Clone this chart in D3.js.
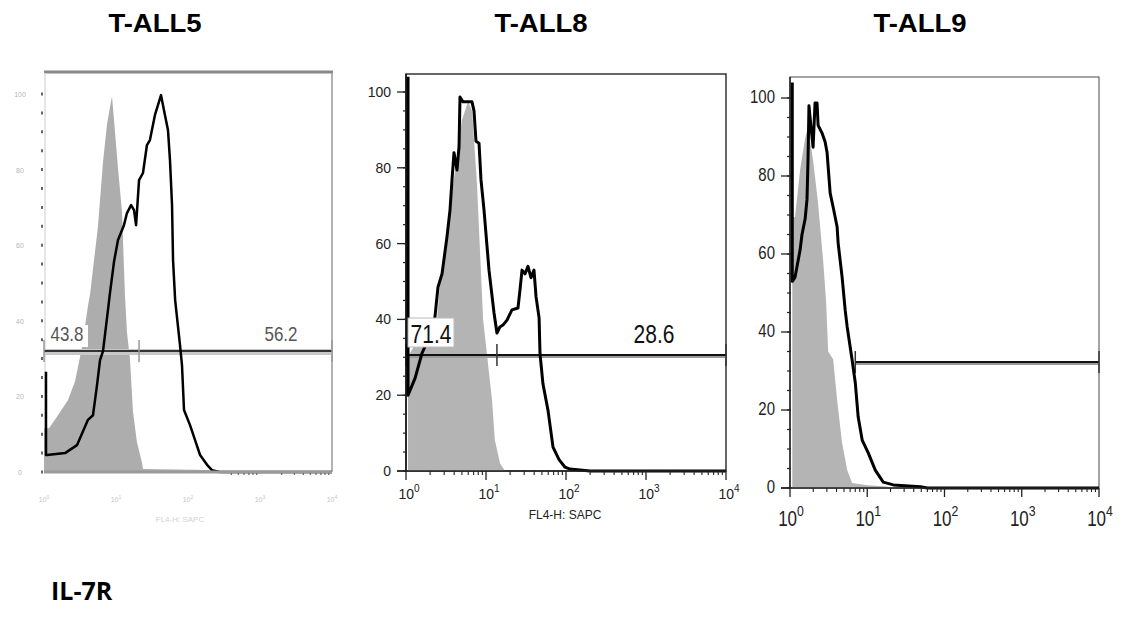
<!DOCTYPE html>
<html><head><meta charset="utf-8">
<script src="https://cdn.jsdelivr.net/npm/d3@7/dist/d3.min.js"></script>
<style>
html,body{margin:0;padding:0;background:#fff;}
svg{display:block;}
</style></head>
<body><svg id="c" width="1124" height="621"></svg>
<script>
// ---------- DATA ----------
const titles = ["T-ALL5", "T-ALL8", "T-ALL9"];
const markerLabel = "IL-7R";
const axisTitle = "FL4-H: SAPC";
const yTicks = [0, 20, 40, 60, 80, 100];
const xTickExps = [0, 1, 2, 3, 4];

// T-ALL5 (isotype = gray, IL-7R = black); x = fluorescence intensity, y = % of max
const gray1X = [1.0, 1.17, 1.42, 2.15, 2.7, 3.37, 4.08, 4.36, 5.62, 6.6, 7.5, 8.8, 10.7, 12.1, 13.3, 14.2, 15.6, 17.2, 19.5, 23.0, 23.7, 200, 215];
const gray1Y = [11.6, 11.6, 13.8, 19, 24, 33, 44, 47, 65, 82, 92, 99.5, 80, 69, 47, 37, 30, 16, 8, 2.4, 0.8, 0.5, 0];
const black1X = [1.066, 1.066, 1.10, 1.96, 2.87, 4.08, 4.79, 5.45, 6.0, 6.6, 7.74, 8.25, 9.38, 10.66, 12.9, 14.2, 16.2, 17.8, 19.0, 20.9, 23.7, 26.9, 29.6, 34.7, 42.2, 47.9, 52.7, 56.2, 60.0, 62.0, 66.3, 77.4, 82.5, 88.0, 106.7, 125, 147, 184, 215, 278, 10000];
const black1Y = [26.5, 4.5, 4.5, 5, 7.1, 13.8, 15, 23, 29.6, 32, 42.9, 47.4, 55.6, 61.4, 65.3, 68.5, 70.6, 69.3, 65.3, 77.2, 79.1, 86.5, 87.8, 94.4, 99.7, 94.4, 90.5, 82.5, 70.6, 56, 45.5, 33.6, 28.3, 16.4, 12.4, 8.5, 4.5, 1.9, 0.5, 0, 0];

// T-ALL8
const gray2X = [1.06, 1.5, 2.44, 2.66, 3.35, 4.1, 5.0, 5.96, 6.7, 7.7, 9.2, 11.9, 12.9, 15.0, 17.3];
const gray2Y = [30, 36, 40, 49.6, 66, 79, 92.6, 97.4, 95, 76, 40, 18.7, 8.2, 2, 0];
const black2X = [1.06, 1.06, 1.30, 1.58, 1.83, 2.30, 2.51, 2.82, 3.25, 3.55, 3.76, 3.98, 4.34, 4.60, 4.73, 5.16, 6.68, 7.08, 7.50, 8.18, 8.66, 9.44, 10.9, 12.6, 13.7, 14.9, 16.3, 18.3, 21.1, 25.1, 26.6, 28.2, 30.7, 33.5, 36.5, 39.8, 42.2, 46.1, 47.3, 51.5, 59.6, 68.8, 81.9, 97.2, 112, 200, 10000];
const black2Y = [104, 20, 24.5, 31, 34, 40.6, 48.5, 52, 61.7, 68.9, 76.8, 84, 79.4, 85.5, 98.7, 97.4, 97.4, 95, 87, 86.5, 76.8, 68.9, 53, 41.7, 36.4, 38, 38.5, 39.8, 42.5, 43, 47.8, 53, 52, 54, 51, 53, 46, 40.4, 31, 23, 16, 6.3, 3, 1, 0.5, 0, 0];

// T-ALL9
const gray3X = [1.07, 1.16, 1.35, 1.57, 1.71, 1.99, 2.31, 2.68, 2.93, 3.12, 3.62, 4.07, 4.73, 5.50, 6.37, 10, 18.2, 19];
const gray3Y = [69.5, 69.5, 81.5, 89.7, 92.6, 84, 73, 58.5, 48, 35, 33, 22.6, 11.5, 4.6, 1.3, 0.7, 0.4, 0];
const black3X = [1.07, 1.07, 1.16, 1.35, 1.43, 1.57, 1.66, 1.71, 1.76, 1.87, 1.99, 2.11, 2.24, 2.31, 2.60, 2.85, 3.02, 3.31, 3.62, 4.07, 4.20, 4.73, 5.18, 5.50, 6.37, 7.0, 7.63, 8.6, 10.3, 12.7, 16.1, 21.8, 48.9, 60, 10000];
const black3Y = [104, 53, 54, 61, 65, 69, 74, 84, 98, 92.5, 87.4, 98.7, 98.7, 93, 91, 88.7, 86, 75.6, 72, 67, 62.8, 54, 45.6, 41.3, 32.8, 27, 18.2, 12.3, 9, 4.6, 1.5, 0.8, 0.3, 0, 0];

// gates: [height (% of max), divider / start intensity], region percentages
const gateLevels = [32, 30.6, 32.3];
const gateSplits = [20.9, 13.7, 7.0];
const gateLabels1 = ["43.8", "56.2"];
const gateLabels2 = ["71.4", "28.6"];

// ---------- DRAW ----------
const svg = d3.select("#c");
const FONT = "'Liberation Sans', Arial, sans-serif";

function txt(g, str, x, y, o) {
  o = o || {};
  const t = g.append("text")
    .attr("transform", `translate(${x},${y}) scale(${o.sx || 1},${o.sy || 1})`)
    .attr("text-anchor", o.anchor || "start")
    .style("font-family", o.family || FONT)
    .style("font-size", (o.size || 12) + "px")
    .style("font-weight", o.weight || "normal")
    .style("fill", o.fill || "#000");
  if (o.opacity != null) t.style("opacity", o.opacity);
  if (o.sup != null) {
    t.append("tspan").text(str);
    t.append("tspan").attr("dy", -(o.size || 12) * 0.45).style("font-size", ((o.size || 12) * 0.72) + "px").text(o.sup);
  } else t.text(str);
  return t;
}

const panels = [
  {L: 44, R: 332, T: 73, B: 472, Y100: 94, gray: [gray1X, gray1Y], black: [black1X, black1Y], fillC: "#adadad"},
  {L: 406, R: 726, T: 74, B: 471, Y100: 92, gray: [gray2X, gray2Y], black: [black2X, black2Y], fillC: "#b4b4b4"},
  {L: 790, R: 1099, T: 77, B: 488, Y100: 98, gray: [gray3X, gray3Y], black: [black3X, black3Y], fillC: "#b4b4b4"}
];
panels.forEach(p => {
  p.x = d3.scaleLog().domain([1, 1e4]).range([p.L, p.R]);
  p.y = d3.scaleLinear().domain([0, 100]).range([p.B, p.Y100]);
});

// titles
const titleX = [155, 541, 920];
titles.forEach((t, i) => txt(svg, t, titleX[i], 32, {anchor: "middle", size: 25, weight: "bold", sx: 1.1}));
txt(svg, markerLabel, 51, 600, {size: 25, weight: "bold", family: "'Open Sans', 'Liberation Sans', sans-serif", sx: 1.0});

const minorVals = [];
for (let e = 0; e < 4; e++) for (let m = 2; m <= 9; m++) minorVals.push(m * Math.pow(10, e));
const yMinor = d3.range(0, 101, 5);

panels.forEach((p, i) => {
  const g = svg.append("g");
  const area = d3.area().x((d, k) => p.x(p.gray[0][k])).y0(p.B).y1((d, k) => p.y(p.gray[1][k]));
  const line = d3.line().x((d, k) => p.x(p.black[0][k])).y((d, k) => p.y(p.black[1][k]));

  // frame
  if (i === 0) {
    g.append("line").attr("x1", p.L).attr("x2", p.R + 1).attr("y1", p.T - 1).attr("y2", p.T - 1).attr("stroke", "#888").attr("stroke-width", 3);
    g.append("line").attr("x1", p.R).attr("x2", p.R).attr("y1", p.T).attr("y2", p.B).attr("stroke", "#999").attr("stroke-width", 1.5);
    g.append("line").attr("x1", p.L + 1).attr("x2", p.L + 1).attr("y1", p.T).attr("y2", p.B).attr("stroke", "#ddd").attr("stroke-width", 1.5);
  } else {
    g.append("rect").attr("x", p.L).attr("y", p.T).attr("width", p.R - p.L).attr("height", p.B - p.T)
      .attr("fill", "none").attr("stroke", i === 1 ? "#333" : "#666").attr("stroke-width", i === 1 ? 1.5 : 1.2);
  }

  // gray histogram
  g.append("path").datum(p.gray[0]).attr("d", area).attr("fill", p.fillC).attr("stroke", "none");

  // gate
  const gy = p.y(gateLevels[i]);
  const gx0 = i === 2 ? p.x(gateSplits[i]) : p.L;
  g.append("line").attr("x1", gx0).attr("x2", p.R).attr("y1", gy + 1).attr("y2", gy + 1)
    .attr("stroke", i === 0 ? "#c8c8c8" : "#9a9a9a").attr("stroke-width", i === 0 ? 6 : 4);
  g.append("line").attr("x1", gx0).attr("x2", p.R).attr("y1", gy).attr("y2", gy)
    .attr("stroke", i === 0 ? "#333" : "#111").attr("stroke-width", 2);
  const ends = i === 2 ? [gx0, p.R] : [p.L, p.x(gateSplits[i]), p.R];
  ends.forEach(ex => g.append("line").attr("x1", ex).attr("x2", ex).attr("y1", gy - 11).attr("y2", gy + 11)
    .attr("stroke", i === 0 ? "#999" : "#333").attr("stroke-width", 1.5));

  // black histogram
  g.append("path").datum(p.black[0]).attr("d", line).attr("fill", "none").attr("stroke", "#000")
    .attr("stroke-width", i === 0 ? 2.5 : 3).attr("stroke-linejoin", "round");

  // axes
  if (i === 0) {
    // degraded axes: faint ticks and labels
    g.append("line").attr("x1", p.L).attr("x2", p.R).attr("y1", p.B).attr("y2", p.B).attr("stroke", "#999").attr("stroke-width", 3);
    yMinor.forEach(v => g.append("line").attr("x1", p.L - 3).attr("x2", p.L - 1).attr("y1", p.y(v)).attr("y2", p.y(v))
      .attr("stroke", "#666").attr("stroke-width", 3));
    yTicks.forEach(v => txt(g, String(v), 20, p.y(v) + 3, {anchor: "middle", size: 7, fill: "#777", opacity: 0.55}));
    xTickExps.forEach(e => txt(g, "10", p.x(Math.pow(10, e)), p.B + 30, {anchor: "middle", size: 7, fill: "#888", opacity: 0.5, sup: String(e)}));
    minorVals.filter(v => v > 300).forEach(v => g.append("line").attr("x1", p.x(v)).attr("x2", p.x(v)).attr("y1", p.B + 1).attr("y2", p.B + 3)
      .attr("stroke", "#666").attr("stroke-width", 1.2));
    txt(g, axisTitle, 180, p.B + 50, {anchor: "middle", size: 8, fill: "#999", opacity: 0.45});
    // gate percentages
    [[gateLabels1[0], p.L + 23, "middle"], [gateLabels1[1], p.R - 51, "middle"]].forEach(([s, x, a], k) => {
      if (k === 0) g.append("rect").attr("x", p.L + 2).attr("y", gy - 26).attr("width", 42).attr("height", 22).attr("fill", "#fff");
      txt(g, s, x, gy - 10, {anchor: a, size: 17, fill: "#555", sy: 1.2, family: "'Liberation Sans Narrow', 'Liberation Sans', sans-serif"});
    });
  } else {
    const lblSize = i === 1 ? 14 : 15;
    const lblSy = i === 1 ? 1.0 : 1.2;
    const endX = p.L - 15;
    g.append("line").attr("x1", p.L).attr("x2", p.L).attr("y1", p.T).attr("y2", p.B).attr("stroke", "#000").attr("stroke-width", 1.2);
    yMinor.forEach(v => g.append("line").attr("x1", p.L - 3).attr("x2", p.L + 1).attr("y1", p.y(v)).attr("y2", p.y(v)).attr("stroke", "#222").attr("stroke-width", 1.2));
    yTicks.forEach(v => {
      g.append("line").attr("x1", p.L - 9).attr("x2", p.L).attr("y1", p.y(v)).attr("y2", p.y(v)).attr("stroke", "#222").attr("stroke-width", 1.3);
      txt(g, String(v), endX, p.y(v) + 5, {anchor: "end", size: lblSize, sy: lblSy, fill: "#222"});
    });
    g.append("line").attr("x1", p.L - 9).attr("x2", p.R).attr("y1", p.B).attr("y2", p.B).attr("stroke", "#222").attr("stroke-width", 1.3);
    minorVals.forEach(v => g.append("line").attr("x1", p.x(v)).attr("x2", p.x(v)).attr("y1", p.B).attr("y2", p.B + 4).attr("stroke", "#222").attr("stroke-width", 1.1));
    xTickExps.forEach(e => {
      const xv = p.x(Math.pow(10, e));
      g.append("line").attr("x1", xv).attr("x2", xv).attr("y1", p.B).attr("y2", p.B + 9).attr("stroke", "#222").attr("stroke-width", 1.3);
      txt(g, "10", xv + (i === 1 ? 3 : 1), p.B + (i === 1 ? 28 : 38), {anchor: "middle", size: i === 1 ? 14 : 17, sy: i === 1 ? 1.1 : 1.25, fill: "#222", sup: String(e)});
    });
    if (i === 1) {
      txt(g, axisTitle, 565, p.B + 48, {anchor: "middle", size: 12, sy: 1.1, fill: "#222"});
      g.append("rect").attr("x", p.L + 2).attr("y", gy - 37).attr("width", 46).attr("height", 29)
        .attr("fill", "#fff").attr("stroke", "#bbb").attr("stroke-width", 1);
      txt(g, gateLabels2[0], p.L + 25, gy - 12, {anchor: "middle", size: 21, sy: 1.2, fill: "#111"});
      txt(g, gateLabels2[1], 654, gy - 12, {anchor: "middle", size: 21, sy: 1.2, fill: "#111"});
    }
  }
});
</script></body></html>
